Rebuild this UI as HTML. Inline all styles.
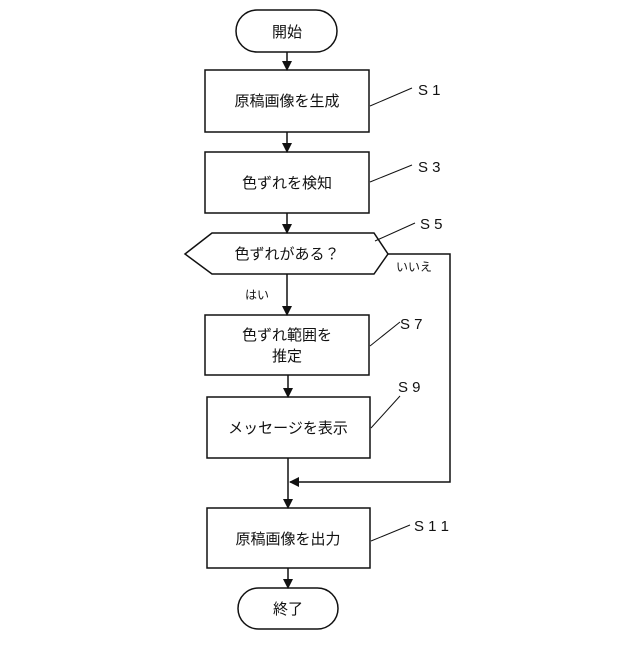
<!DOCTYPE html>
<html><head><meta charset="utf-8"><style>
html,body{margin:0;padding:0;background:#fff;}
svg text{font-family:"Liberation Sans","Noto Sans CJK JP",sans-serif;fill:#111;}
</style></head><body>
<svg width="640" height="640" viewBox="0 0 640 640" xmlns="http://www.w3.org/2000/svg">
<defs><marker id="a" markerWidth="10" markerHeight="10" refX="9" refY="5" orient="auto" markerUnits="userSpaceOnUse"><path d="M0,0 L10,5 L0,10 z" fill="#111"/></marker></defs>
<g stroke="#111" stroke-width="1.5" fill="none">
<rect x="236" y="10" width="101" height="42" rx="21"/>
<rect x="205" y="70" width="164" height="62"/>
<rect x="205" y="152" width="164" height="61"/>
<polygon points="185,254 212,233 374,233 388,254 374,274 212,274"/>
<rect x="205" y="315" width="164" height="60"/>
<rect x="207" y="397" width="163" height="61"/>
<rect x="207" y="508" width="163" height="60"/>
<rect x="238" y="588" width="100" height="41" rx="20.5"/>
<line x1="287" y1="52" x2="287" y2="70" marker-end="url(#a)"/>
<line x1="287" y1="132" x2="287" y2="152" marker-end="url(#a)"/>
<line x1="287" y1="213" x2="287" y2="233" marker-end="url(#a)"/>
<line x1="287" y1="274" x2="287" y2="315" marker-end="url(#a)"/>
<line x1="288" y1="375" x2="288" y2="397" marker-end="url(#a)"/>
<line x1="288" y1="458" x2="288" y2="508" marker-end="url(#a)"/>
<line x1="288" y1="568" x2="288" y2="588" marker-end="url(#a)"/>
<polyline points="388,254 450,254 450,482 290,482" marker-end="url(#a)"/>
<line x1="370" y1="106" x2="412" y2="88" stroke-width="1"/>
<line x1="370" y1="182" x2="412" y2="165" stroke-width="1"/>
<line x1="375" y1="241" x2="415" y2="223" stroke-width="1"/>
<line x1="370" y1="346" x2="400" y2="322" stroke-width="1"/>
<line x1="371" y1="428" x2="400" y2="396" stroke-width="1"/>
<line x1="371" y1="541" x2="410" y2="525" stroke-width="1"/>
</g>
<g font-size="15" text-anchor="middle">
<text x="287" y="37">開始</text>
<text x="287" y="106">原稿画像を生成</text>
<text x="287" y="188">色ずれを検知</text>
<text x="287" y="259">色ずれがある？</text>
<text x="287" y="340">色ずれ範囲を</text>
<text x="287" y="361">推定</text>
<text x="288" y="433">メッセージを表示</text>
<text x="288" y="544">原稿画像を出力</text>
<text x="288" y="614">終了</text>
</g>
<g font-size="15">
<text x="418" y="95">S 1</text>
<text x="418" y="172">S 3</text>
<text x="420" y="229">S 5</text>
<text x="400" y="329">S 7</text>
<text x="398" y="392">S 9</text>
<text x="414" y="531">S 1 1</text>
</g>
<g font-size="12">
<text x="396" y="271">いいえ</text>
<text x="245" y="299">はい</text>
</g>
</svg>
</body></html>
